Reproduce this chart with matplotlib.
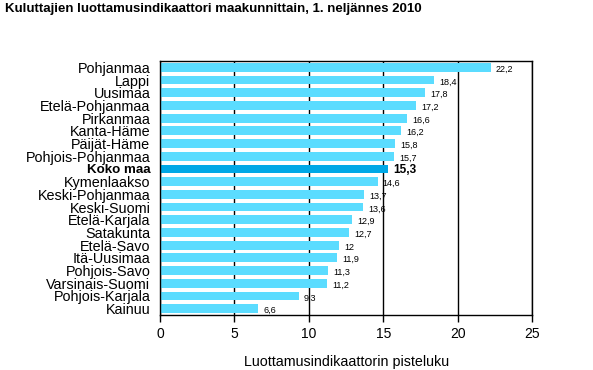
import matplotlib
matplotlib.use("Agg")
import matplotlib.pyplot as plt

plt.rcParams['font.family'] = ['Liberation Sans', 'DejaVu Sans']

regions = ["Pohjanmaa", "Lappi", "Uusimaa", "Etelä-Pohjanmaa", "Pirkanmaa",
           "Kanta-Häme", "Päijät-Häme", "Pohjois-Pohjanmaa", "Koko maa",
           "Kymenlaakso", "Keski-Pohjanmaa", "Keski-Suomi", "Etelä-Karjala",
           "Satakunta", "Etelä-Savo", "Itä-Uusimaa", "Pohjois-Savo",
           "Varsinais-Suomi", "Pohjois-Karjala", "Kainuu"]
values = [22.2, 18.4, 17.8, 17.2, 16.6, 16.2, 15.8, 15.7, 15.3, 14.6,
          13.7, 13.6, 12.9, 12.7, 12.0, 11.9, 11.3, 11.2, 9.3, 6.6]
highlight = "Koko maa"
xticks = [0, 5, 10, 15, 20, 25]
title = "Kuluttajien luottamusindikaattori maakunnittain, 1. neljännes 2010"
xlabel = "Luottamusindikaattorin pisteluku"

fig = plt.figure(figsize=(5.93, 3.70), dpi=100)
ax = fig.add_axes([160/593, 55/370, 372.5/593, 254/370])

ypos = list(range(len(regions)))
colors = ['#00A8E6' if r == highlight else '#5BDCFF' for r in regions]
ax.barh(ypos, values, height=0.69, color=colors, zorder=3)

for y, v, r in zip(ypos, values, regions):
    s = f"{v:g}".replace('.', ',')
    if r == highlight:
        ax.text(v + 0.35, y + 0.05, s, fontsize=8.5, fontweight='bold', va='center', ha='left', zorder=4)
    else:
        ax.text(v + 0.35, y + 0.15, s, fontsize=6.5, va='center', ha='left', zorder=4)

ax.set_xlim(0, 25)
ax.set_ylim(len(regions) - 0.5, -0.5)
ax.set_xticks(xticks)
ax.set_xticklabels([str(t) for t in xticks], fontsize=10)
ax.set_yticks(ypos)
ax.set_yticklabels(regions, fontsize=10.4)
for lbl in ax.get_yticklabels():
    if lbl.get_text() == highlight:
        lbl.set_fontweight('bold')
        lbl.set_fontsize(9.6)
ax.tick_params(axis='y', length=0, pad=7)
ax.tick_params(axis='x', length=5, width=1, direction='out', pad=4, color='black')
ax.xaxis.grid(True, color='black', linewidth=1, zorder=1)
ax.set_axisbelow(True)
for sp in ax.spines.values():
    sp.set_linewidth(1)
    sp.set_color('black')
    sp.set_zorder(5)
ax.set_xlabel(xlabel, fontsize=10.3, labelpad=10)

fig.text(5/593, 1 - 9/370, title, fontsize=9.5, fontweight='bold', ha='left', va='center')

fig.savefig("out.png", dpi=100)
